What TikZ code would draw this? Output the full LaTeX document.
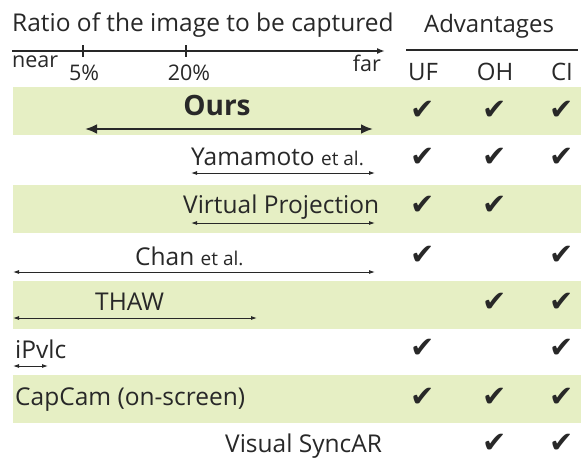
\documentclass[tikz,border=0pt]{standalone}
\usepackage{fontspec}
\setmainfont{Open Sans}
\newfontfamily\symfont{DejaVu Sans}
\newcommand\etalfont{\fontsize{19}{22}\selectfont}
\usetikzlibrary{arrows.meta}
\definecolor{band}{RGB}{230,239,196}
\definecolor{ink}{RGB}{40,40,40}
\begin{document}
\begin{tikzpicture}[x=1pt,y=-1pt,
  lbl/.style={anchor=base west, inner sep=0pt, text=ink, font=\fontsize{24.5}{28}\selectfont},
  small/.style={inner sep=0pt, text=ink, font=\fontsize{21.5}{25}\selectfont},
  hdr/.style={anchor=base, inner sep=0pt, text=ink, font=\fontsize{24}{28}\selectfont},
  ck/.style={inner sep=0pt, text=ink, font=\symfont\fontsize{29}{32}\selectfont},
  rng/.style={draw=ink, line width=0.9pt, {Latex[length=6pt,width=4pt]}-{Latex[length=6pt,width=4pt]}},
  bigrng/.style={draw=ink, line width=2.6pt, {Latex[length=12pt,width=10pt]}-{Latex[length=12pt,width=10pt]}},
  axisline/.style={draw=ink, line width=1.8pt},
  bandfill/.style={fill=band, draw=none}
]
\useasboundingbox (0,0) rectangle (581,458);
\fill[white] (0,0) rectangle (581,458);
% bands
\fill[bandfill] (13,87) rectangle (581,135);
\fill[bandfill] (13,185) rectangle (581,233);
\fill[bandfill] (13,281) rectangle (581,329);
\fill[bandfill] (13,375) rectangle (581,423);
% header left
\node[lbl] (title) at (12,31) {Ratio of the image to be captured};
\coordinate (ax0) at (12,51);
\coordinate (ax1) at (385,51);
\draw[axisline, -{Latex[length=8pt,width=6pt]}] (ax0) -- (ax1);
\coordinate (t5a) at (83,45); \coordinate (t5b) at (83,57);
\coordinate (t20a) at (186,45); \coordinate (t20b) at (186,57);
\draw[axisline] (t5a) -- (t5b);
\draw[axisline] (t20a) -- (t20b);
\node[small, anchor=base west] (near) at (12,67) {near};
\node[small, anchor=base] (p5) at (84,80) {5\%};
\node[small, anchor=base] (p20) at (189,80) {20\%};
\node[small, anchor=base east] (far) at (381,71) {far};
% header right
\node[hdr] (adv) at (489,32) {Advantages};
\coordinate (al0) at (406,50); \coordinate (al1) at (578,50);
\draw[axisline] (al0) -- (al1);
\node[hdr] (uf) at (423,80) {UF};
\node[hdr] (oh) at (495,80) {OH};
\node[hdr] (ci) at (562,80) {CI};
% rows
\node[lbl, anchor=base, font=\fontsize{28}{32}\selectfont\bfseries] (ours) at (217,115) {Ours};
\coordinate (o0) at (85,129); \coordinate (o1) at (373,129);
\draw[bigrng] (o0) -- (o1);

\node[lbl] (yama) at (191,165) {Yamamoto {\etalfont et al.}};
\coordinate (y0) at (191,173); \coordinate (y1) at (375,173);
\draw[rng] (y0) -- (y1);

\node[lbl] (vp) at (183,213) {Virtual Projection};
\coordinate (v0) at (191,223); \coordinate (v1) at (375,223);
\draw[rng] (v0) -- (v1);

\node[lbl] (chan) at (135,265) {Chan {\etalfont et al.}};
\coordinate (c0) at (13,272); \coordinate (c1) at (375,272);
\draw[rng] (c0) -- (c1);

\node[lbl] (thaw) at (95,310) {THAW};
\coordinate (h0) at (13,318); \coordinate (h1) at (257,318);
\draw[rng] (h0) -- (h1);

\node[lbl] (ipv) at (15,358) {iPvlc};
\coordinate (i0) at (13,366); \coordinate (i1) at (48,366);
\draw[rng] (i0) -- (i1);

\node[lbl] (cap) at (15,405) {CapCam (on-screen)};

\node[lbl] (vs) at (225,452) {Visual SyncAR};

% checks
\foreach \y/\a/\b/\c [count=\i] in {110/1/1/1,157/1/1/1,205/1/1/0,255/1/0/1,302/0/1/1,348/1/0/1,397/1/1/1,443/0/1/1}{
  \ifnum\a=1 \node[ck] (cu\i) at (423,\y) {✔}; \fi
  \ifnum\b=1 \node[ck] (co\i) at (495,\y) {✔}; \fi
  \ifnum\c=1 \node[ck] (cc\i) at (562,\y) {✔}; \fi
}
\end{tikzpicture}
\end{document}
